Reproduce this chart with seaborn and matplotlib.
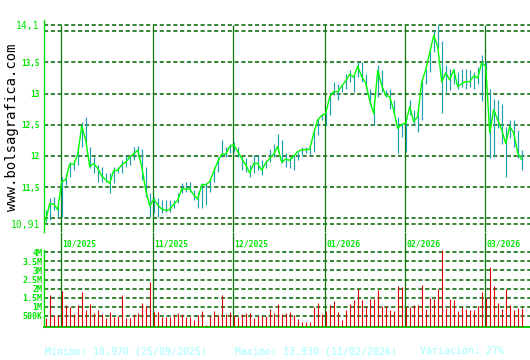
import matplotlib
matplotlib.use("Agg")
import matplotlib.pyplot as plt
import matplotlib.transforms as mtransforms
import seaborn as sns

# ---------------- data ----------------
day = list(range(120))
close = [10.97, 11.24, 11.23, 11.14, 11.59, 11.62, 11.87, 11.87, 12.02, 12.48,
         12.26, 11.83, 11.88, 11.80, 11.68, 11.62, 11.56, 11.77, 11.77, 11.86,
         11.90, 11.98, 12.04, 12.09, 11.83, 11.46, 11.20, 11.31, 11.22, 11.15,
         11.13, 11.14, 11.23, 11.29, 11.47, 11.47, 11.47, 11.38, 11.31, 11.54,
         11.54, 11.59, 11.75, 11.91, 12.03, 12.03, 12.15, 12.18, 12.07, 11.96,
         11.86, 11.73, 11.88, 11.88, 11.77, 11.89, 11.96, 12.03, 12.15, 11.90,
         11.95, 11.93, 12.00, 12.07, 12.10, 12.10, 12.11, 12.36, 12.58, 12.65,
         12.68, 12.95, 13.03, 13.03, 13.12, 13.20, 13.31, 13.26, 13.44, 13.27,
         13.17, 12.89, 12.68, 13.37, 13.13, 12.97, 12.95, 12.73, 12.44, 12.51,
         12.52, 12.79, 12.55, 12.63, 13.18, 13.38, 13.65, 13.93, 13.75, 13.19,
         13.33, 13.22, 13.38, 13.11, 13.16, 13.19, 13.19, 13.28, 13.25, 13.49,
         13.44, 12.37, 12.74, 12.58, 12.42, 12.20, 12.47, 12.37, 12.05, 11.94]
high = [11.14, 11.32, 11.35, 11.27, 11.67, 11.72, 11.91, 11.94, 12.15, 12.55,
        12.63, 12.15, 11.99, 11.86, 11.83, 11.72, 11.72, 11.83, 11.83, 11.94,
        12.02, 12.02, 12.15, 12.16, 12.12, 11.83, 11.40, 11.35, 11.32, 11.30,
        11.30, 11.30, 11.30, 11.40, 11.56, 11.59, 11.59, 11.46, 11.43, 11.56,
        11.56, 11.62, 11.83, 11.99, 12.26, 12.15, 12.20, 12.23, 12.15, 11.99,
        11.96, 11.86, 12.02, 12.02, 11.94, 11.94, 12.12, 12.20, 12.36, 12.26,
        12.04, 11.99, 12.02, 12.07, 12.15, 12.15, 12.15, 12.44, 12.60, 12.65,
        12.71, 13.00, 13.19, 13.16, 13.13, 13.32, 13.37, 13.29, 13.50, 13.50,
        13.32, 13.08, 12.89, 13.45, 13.37, 13.05, 13.08, 12.89, 12.63, 12.52,
        12.55, 12.89, 12.73, 12.79, 13.22, 13.40, 13.69, 14.02, 14.10, 13.84,
        13.46, 13.40, 13.40, 13.35, 13.40, 13.40, 13.37, 13.35, 13.43, 13.61,
        13.52, 13.08, 12.92, 12.90, 12.84, 12.47, 12.58, 12.58, 12.42, 12.09]
low = [10.94, 10.98, 11.14, 11.00, 11.02, 11.54, 11.67, 11.78, 11.86, 12.15,
       12.15, 11.80, 11.72, 11.59, 11.59, 11.59, 11.40, 11.56, 11.72, 11.72,
       11.83, 11.86, 11.94, 11.99, 11.62, 11.35, 11.03, 11.08, 11.03, 11.08,
       11.11, 11.11, 11.16, 11.24, 11.40, 11.43, 11.43, 11.30, 11.16, 11.16,
       11.21, 11.43, 11.59, 11.75, 11.99, 11.99, 12.04, 12.07, 11.99, 11.78,
       11.75, 11.67, 11.72, 11.78, 11.70, 11.80, 11.91, 11.99, 12.07, 11.88,
       11.83, 11.80, 11.78, 11.94, 12.02, 12.04, 12.02, 12.07, 12.34, 12.58,
       12.50, 12.65, 12.97, 12.89, 13.03, 13.08, 13.19, 13.03, 13.27, 13.19,
       13.08, 12.81, 12.50, 12.95, 13.03, 12.95, 12.76, 12.68, 12.04, 12.31,
       12.07, 12.65, 12.50, 12.39, 12.58, 13.16, 13.35, 13.67, 13.73, 12.69,
       13.03, 13.05, 13.16, 13.08, 13.11, 13.08, 13.11, 13.08, 13.16, 12.88,
       13.30, 11.96, 11.99, 12.45, 12.20, 11.66, 12.29, 12.15, 11.96, 11.78]
volume_m = [0.37, 1.65, 0.55, 0.55, 1.87, 1.10, 1.01, 0.61, 1.10, 1.84,
            0.83, 1.16, 0.65, 0.83, 0.61, 0.41, 0.72, 0.46, 0.52, 1.65,
            0.41, 0.41, 0.59, 0.68, 1.23, 1.05, 2.39, 0.74, 0.74, 0.46,
            0.46, 0.46, 0.61, 0.68, 0.61, 0.46, 0.46, 0.28, 0.55, 0.79,
            0.02, 0.52, 0.79, 0.55, 1.65, 0.61, 0.74, 0.55, 0.46, 0.61,
            0.68, 0.65, 0.41, 0.52, 0.52, 0.50, 0.88, 0.65, 1.16, 0.61,
            0.65, 0.72, 0.54, 0.34, 0.17, 0.17, 0.17, 0.99, 1.21, 0.61,
            0.75, 1.10, 1.32, 0.72, 0.28, 0.83, 1.16, 1.38, 1.98, 1.38,
            1.01, 1.43, 1.43, 1.93, 1.05, 1.05, 0.83, 0.77, 2.15, 2.09,
            1.00, 0.99, 1.10, 1.10, 2.20, 0.88, 1.49, 1.43, 1.98, 4.11,
            0.94, 1.43, 1.38, 0.77, 0.99, 0.88, 0.83, 0.83, 1.05, 1.82,
            1.50, 3.19, 2.15, 1.21, 0.88, 1.98, 1.10, 0.83, 0.94, 0.94]
month_start = [4, 27, 47, 70, 90, 110]
month_labels = ["10/2025", "11/2025", "12/2025", "01/2026", "02/2026", "03/2026"]
price_ticks = [10.91, 11.5, 12.0, 12.5, 13.0, 13.5, 14.1]
price_tick_labels = ["10,91", "11,5", "12", "12,5", "13", "13,5", "14,1"]
price_grid = [10.91, 11.0, 11.5, 12.0, 12.5, 13.0, 13.5, 14.0, 14.1]
vol_ticks = [0.5, 1.0, 1.5, 2.0, 2.5, 3.0, 3.5, 4.0]
vol_tick_labels = ["500K", "1M", "1.5M", "2M", "2.5M", "3M", "3.5M", "4M"]
footer_min = "Minimo: 10,970 (25/09/2025)"
footer_max = "Maximo: 13,930 (11/02/2026)"
footer_var = "Variación: 27%"
brand = "www.bolsagrafica.com"

# ---------------- style ----------------
sns.set_style("white")
plt.rcParams['font.family'] = ['DejaVu Sans Mono', 'DejaVu Sans']
plt.rcParams['lines.scale_dashes'] = False

W, H = 530, 360
BRIGHT = '#00ff00'
LABEL = '#00e600'
DASH = '#006400'
VLINE = '#0a7a0a'
HL = '#1f9fb2'
VOL = '#dd0000'
DASHES = (3.0, 1.9)

fig = plt.figure(figsize=(W / 100, H / 100), dpi=100)
fig.patch.set_facecolor('white')


def fx(px):
    return px / W


def fy(py):
    return 1 - py / H


ax_p = fig.add_axes([fx(44), fy(232), fx(486), (232 - 20) / H])
ax_v = fig.add_axes([fx(44), fy(326.7), fx(486), (326.7 - 232) / H])

xlim = (-0.425, 121.075)
month_x = [m - 0.2 for m in month_start]

# ---- price panel ----
ax_p.set_xlim(*xlim)
ax_p.set_ylim(10.7834, 14.177)
for g in price_grid:
    ax_p.axhline(g, color=DASH, lw=1.1, dashes=DASHES, zorder=1)
ax_p.vlines(month_x, 10.7834, price_ticks[-1], color=VLINE, lw=0.9, zorder=1)
ax_p.vlines(day, low, high, color=HL, lw=0.85, zorder=3)
sns.lineplot(x=day, y=close, ax=ax_p, color=BRIGHT, linewidth=1.0, zorder=4, legend=False)
ax_p.set_xlabel('')
ax_p.set_ylabel('')
ax_p.set_xticks([])
ax_p.set_yticks(price_ticks)
ax_p.set_yticklabels(price_tick_labels)
ax_p.tick_params(axis='y', length=0, pad=3, labelcolor=LABEL)
for lab in ax_p.get_yticklabels():
    if lab.get_text() in ("14,1", "10,91"):
        lab.set_fontsize(7.0)
    else:
        lab.set_fontsize(5.6)
        lab.set_fontweight('bold')
for s in ['top', 'right', 'bottom']:
    ax_p.spines[s].set_visible(False)
ax_p.spines['left'].set_color('#00dd00')
ax_p.spines['left'].set_linewidth(1.0)
ax_p.set_facecolor('none')

# ---- volume panel ----
vol_bottom = -0.094
ax_v.set_xlim(*xlim)
ax_v.set_ylim(vol_bottom, 5.118)
for g in vol_ticks:
    ax_v.axhline(g, color=DASH, lw=1.1, dashes=DASHES, zorder=1)
ax_v.vlines(month_x, vol_bottom, 5.118, color=VLINE, lw=0.9, zorder=1)
ax_v.vlines(day, vol_bottom, volume_m, color=VOL, lw=0.8, zorder=3)
ax_v.set_xticks([])
ax_v.set_yticks(vol_ticks)
ax_v.set_yticklabels(vol_tick_labels)
ax_v.tick_params(axis='y', length=0, pad=1.2, labelcolor=LABEL, labelsize=6.0)
for lab in ax_v.get_yticklabels():
    lab.set_fontweight('bold')
for s in ['top', 'right']:
    ax_v.spines[s].set_visible(False)
ax_v.spines['left'].set_color('#00dd00')
ax_v.spines['left'].set_linewidth(1.0)
ax_v.spines['left'].set_bounds(vol_bottom, 4.15)
ax_v.spines['bottom'].set_color('#00cc00')
ax_v.spines['bottom'].set_linewidth(1.4)
ax_v.set_facecolor('none')

trans = mtransforms.blended_transform_factory(ax_v.transData, ax_v.transAxes)
for mx, ml in zip(month_x, month_labels):
    ax_v.text(mx + 0.3, 0.873, ml, transform=trans, ha='left', va='center',
              fontsize=5.8, fontweight='bold', color=LABEL, zorder=5)

# ---- texts ----
fig.text(fx(12), fy(127.5), brand, rotation=90, ha='center', va='center',
         fontsize=10, color='black')
FOOT = '#a0ffff'
fig.text(fx(45), fy(351.5), footer_min, ha='left', va='center', fontsize=7.1, color=FOOT)
fig.text(fx(235), fy(351.5), footer_max, ha='left', va='center', fontsize=7.1, color=FOOT)
fig.text(fx(420), fy(351.5), footer_var, ha='left', va='center', fontsize=7.1, color=FOOT)

fig.savefig('out.png', dpi=100, facecolor='white')
